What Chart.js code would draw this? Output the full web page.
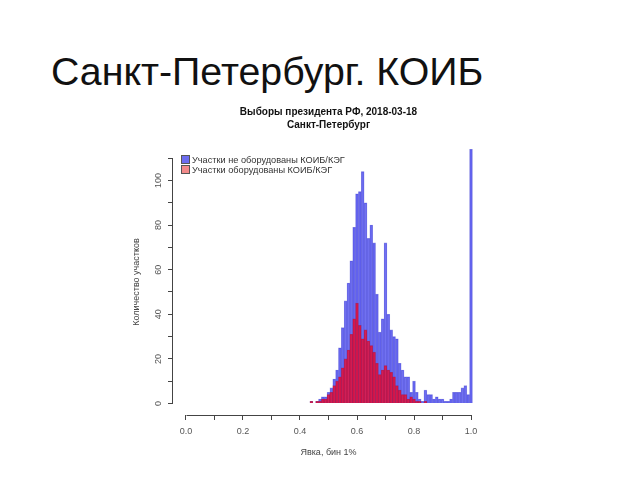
<!DOCTYPE html>
<html lang="ru">
<head>
<meta charset="utf-8">
<script src="https://cdn.jsdelivr.net/npm/chart.js@4.4.1/dist/chart.umd.min.js"></script>
<style>
  html, body { margin: 0; padding: 0; background: #fff; }
  #page { position: relative; width: 640px; height: 480px; overflow: hidden; font-family: "Liberation Sans", Arial, sans-serif; }
  #slide-title { position: absolute; left: 51px; top: 52px; font-size: 39.3px; line-height: 39px; color: #111; white-space: nowrap; }
  #chart { position: absolute; left: 0; top: 0; }
  .lg { position: absolute; left: 181px; font-size: 9.2px; line-height: 10px; color: #333; white-space: nowrap; }
  .lg i { display: inline-block; width: 7px; height: 7px; border: 1px solid #555; vertical-align: -1px; margin-right: 2px; }
</style>
</head>
<body>
<div id="page">
  <div id="slide-title">Санкт-Петербург. КОИБ</div>
  <canvas id="chart" width="640" height="480"></canvas>
  <div class="lg" style="top:155px"><i style="background:#6c6cef"></i>Участки не оборудованы КОИБ/КЭГ</div>
  <div class="lg" style="top:164.5px"><i style="background:#f28a8a"></i>Участки оборудованы КОИБ/КЭГ</div>
</div>
<script>
// явка, бин 1% (центр бина)
const turnoutBins = [0.43, 0.44, 0.45, 0.46, 0.47, 0.48, 0.49, 0.50, 0.51, 0.52,
  0.53, 0.54, 0.55, 0.56, 0.57, 0.58, 0.59, 0.60, 0.61, 0.62,
  0.63, 0.64, 0.65, 0.66, 0.67, 0.68, 0.69, 0.70, 0.71, 0.72,
  0.73, 0.74, 0.75, 0.76, 0.77, 0.78, 0.79, 0.80, 0.81, 0.82,
  0.83, 0.84, 0.85, 0.86, 0.87, 0.88, 0.89, 0.90, 0.91, 0.92,
  0.93, 0.94, 0.95, 0.96, 0.97, 0.98, 0.99, 1.00];

// участки без КОИБ/КЭГ
const notEquipped = [0, 1, 0, 1, 2, 3, 3, 5, 7, 11,
  15, 25, 34, 46, 54, 64, 79, 94, 95, 104,
  90, 74, 80, 72, 49, 32, 38, 72, 40, 33,
  30, 29, 18, 15, 12, 12, 5, 10, 5, 2,
  1, 6, 4, 4, 2, 3, 2, 2, 1, 1,
  2, 5, 5, 5, 7, 8, 4, 114];

// участки с КОИБ/КЭГ
const equipped = [0, 1, 0, 1, 1, 2, 2, 4, 5, 8,
  10, 12, 16, 20, 24, 31, 38, 45, 35, 29,
  33, 28, 26, 23, 18, 13, 15, 17, 15, 14,
  12, 8, 6, 4, 4, 2, 3, 2, 1, 1,
  0, 1, 0, 0, 0, 0, 0, 0, 0, 0,
  0, 0, 0, 0, 0, 0, 0, 0];

const xTicks = [0, 0.1, 0.2, 0.3, 0.4, 0.5, 0.6, 0.7, 0.8, 0.9, 1.0];
const xTickLabels = ['0.0', '', '0.2', '', '0.4', '', '0.6', '', '0.8', '', '1.0'];
const yTicks = [0, 10, 20, 30, 40, 50, 60, 70, 80, 90, 100, 110];
const yTickLabels = ['0', '', '20', '', '40', '', '60', '', '80', '', '100', ''];

const AXIS = '#444';

// оси в стиле R: линия только от первого до последнего деления
const rAxisLines = {
  id: 'rAxisLines',
  afterDraw(chart) {
    const { ctx, chartArea, scales: { x, y } } = chart;
    ctx.save();
    ctx.strokeStyle = AXIS;
    ctx.lineWidth = 1;
    ctx.beginPath();
    const by = Math.round(chartArea.bottom) + 0.5;
    ctx.moveTo(Math.round(x.getPixelForValue(xTicks[0])) + 0.5, by);
    ctx.lineTo(Math.round(x.getPixelForValue(xTicks[xTicks.length - 1])) + 0.5, by);
    const lx = Math.round(chartArea.left) - 0.5;
    ctx.moveTo(lx, Math.round(y.getPixelForValue(yTicks[0])) + 0.5);
    ctx.lineTo(lx, Math.round(y.getPixelForValue(yTicks[yTicks.length - 1])) + 0.5);
    ctx.stroke();
    ctx.restore();
  },
};

const font = { family: '"Liberation Sans", Arial, sans-serif', size: 9 };

new Chart(document.getElementById('chart'), {
  type: 'bar',
  data: {
    datasets: [
      {
        label: 'Участки не оборудованы КОИБ/КЭГ',
        data: turnoutBins.map((b, i) => ({ x: b, y: notEquipped[i] })),
        backgroundColor: 'rgba(60,60,235,0.72)',
        borderColor: 'rgba(40,40,200,0.5)',
        borderWidth: 0.6,
        order: 1,
      },
      {
        label: 'Участки оборудованы КОИБ/КЭГ',
        data: turnoutBins.map((b, i) => ({ x: b, y: equipped[i] })),
        backgroundColor: 'rgba(250,0,26,0.7)',
        borderColor: 'rgba(170,0,40,0.5)',
        borderWidth: 0.6,
        order: 0,
      },
    ],
  },
  options: {
    responsive: false,
    animation: false,
    devicePixelRatio: 1,
    layout: { padding: { left: 128, right: 156, top: 95, bottom: 20 } },
    datasets: { bar: { grouped: false, barPercentage: 1, categoryPercentage: 1 } },
    plugins: {
      legend: { display: false },
      tooltip: { enabled: false },
      title: {
        display: true,
        fullSize: false,
        text: ['Выборы президента РФ, 2018-03-18', 'Санкт-Петербург'],
        color: '#111',
        font: { family: font.family, size: 10, weight: 'bold', lineHeight: 1.35 },
        padding: { top: 10, bottom: 17 },
      },
    },
    scales: {
      x: {
        type: 'linear',
        offset: false,
        min: -0.0456,
        max: 1.0456,
        afterBuildTicks: s => { s.ticks = xTicks.map(v => ({ value: v })); },
        afterFit: s => { s.height = 45; },
        border: { display: false },
        grid: { display: true, offset: false, drawOnChartArea: false, drawTicks: true, tickLength: 5, color: AXIS },
        ticks: {
          autoSkip: false, maxRotation: 0, padding: 6, color: '#555', font,
          callback: (v, i) => xTickLabels[i],
        },
        title: { display: true, text: 'Явка, бин 1%', color: '#444', font, padding: { top: 0, bottom: 2.5 } },
      },
      y: {
        min: -5.16,
        max: 114.1,
        afterBuildTicks: s => { s.ticks = yTicks.map(v => ({ value: v })); },
        afterFit: s => { s.width = 45; },
        border: { display: false },
        grid: { display: true, drawOnChartArea: false, drawTicks: true, tickLength: 5, color: AXIS },
        ticks: {
          autoSkip: false, minRotation: 90, maxRotation: 90, crossAlign: 'center', padding: 1.5,
          color: '#555', font,
          callback: (v, i) => yTickLabels[i],
        },
        title: { display: true, text: 'Количество участков', color: '#444', font, padding: { top: 3, bottom: 0 } },
      },
    },
  },
  plugins: [rAxisLines],
});
</script>
</body>
</html>
